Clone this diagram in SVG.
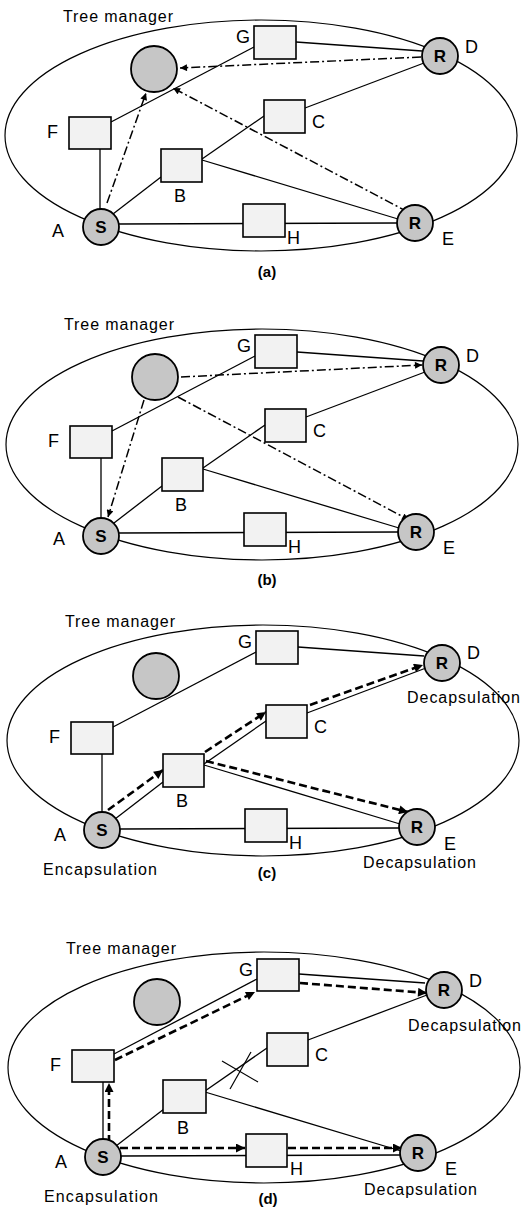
<svg xmlns="http://www.w3.org/2000/svg" width="531" height="1208" viewBox="0 0 531 1208">
<style>
.bg{fill:#fff}
.ell{fill:none;stroke:#000;stroke-width:1.2}
.edge{fill:none;stroke:#000;stroke-width:1.3}
.dd{fill:none;stroke:#000;stroke-width:1.5;stroke-dasharray:9 3 2 3}
.dash{fill:none;stroke:#000;stroke-width:2.6;stroke-dasharray:8 4}
.box{fill:#f2f2f2;stroke:#000;stroke-width:1.6}
.rc{fill:#c6c6c6;stroke:#000;stroke-width:1.8}
.t{font-family:"Liberation Sans",Arial,sans-serif;fill:#000}
.lbl{font-size:18px}
.in{font-size:17px;font-weight:bold;text-anchor:middle}
.tm{font-size:16px}
.enc{font-size:16px}
.cap{font-size:15px;font-weight:bold;text-anchor:middle}
.x{fill:none;stroke:#000;stroke-width:1.2}
</style>
<defs>
<marker id="ah" viewBox="0 0 10 10" refX="10" refY="5" markerWidth="8" markerHeight="7" markerUnits="userSpaceOnUse" orient="auto"><path d="M0,0 L10,5 L0,10 z" fill="#000"/></marker>
<marker id="ahb" viewBox="0 0 10 10" refX="10" refY="5" markerWidth="11" markerHeight="9" markerUnits="userSpaceOnUse" orient="auto"><path d="M0,0 L10,5 L0,10 z" fill="#000"/></marker>
</defs>
<rect class="bg" x="0" y="0" width="531" height="1208"/>

<!-- Panel (a) -->
<g id="panel-a" transform="translate(0,0)">
  <ellipse class="ell" cx="261" cy="135.5" rx="256" ry="115.5"/>
  <text class="t tm" x="63" y="22" textLength="110" lengthAdjust="spacing">Tree manager</text>
  <g id="a-connectors">
    <line class="edge" x1="100" y1="149" x2="100" y2="209"/>
    <line class="edge" x1="111" y1="122" x2="254" y2="47"/>
    <line class="edge" x1="296" y1="42" x2="422" y2="51"/>
    <line class="edge" x1="305" y1="108" x2="424" y2="63"/>
    <line class="edge" x1="202" y1="159" x2="264" y2="116"/>
    <line class="edge" x1="202" y1="160" x2="398" y2="219"/>
    <line class="edge" x1="113" y1="214" x2="161" y2="177"/>
    <line class="edge" x1="118" y1="224" x2="397" y2="223"/>
    <line class="dd" x1="107" y1="203" x2="146" y2="93" marker-end="url(#ah)"/>
    <line class="dd" x1="421" y1="57" x2="180" y2="68" marker-end="url(#ah)"/>
    <line class="dd" x1="408" y1="212" x2="173" y2="88" marker-end="url(#ah)"/>
  </g>
  <g id="a-TM"><circle class="rc" cx="154" cy="69" r="23"/></g>
  <g id="a-G"><rect class="box" x="254" y="26" width="42" height="33"/><text class="t lbl" x="250" y="43" text-anchor="end">G</text></g>
  <g id="a-D"><circle class="rc" cx="440" cy="56" r="18"/><text class="t in" x="440" y="62">R</text><text class="t lbl" x="465" y="53">D</text></g>
  <g id="a-C"><rect class="box" x="264" y="100" width="41" height="33"/><text class="t lbl" x="312" y="128">C</text></g>
  <g id="a-F"><rect class="box" x="69" y="117" width="42" height="32"/><text class="t lbl" x="47" y="138">F</text></g>
  <g id="a-B"><rect class="box" x="161" y="149" width="41" height="33"/><text class="t lbl" x="174" y="202">B</text></g>
  <g id="a-S"><circle class="rc" cx="101" cy="227" r="18"/><text class="t in" x="101" y="233">S</text><text class="t lbl" x="52" y="237">A</text></g>
  <g id="a-H"><rect class="box" x="243" y="204" width="42" height="33"/><text class="t lbl" x="287" y="244">H</text></g>
  <g id="a-E"><circle class="rc" cx="415" cy="223" r="18"/><text class="t in" x="415" y="229">R</text><text class="t lbl" x="442" y="245">E</text></g>
  <text class="t cap" x="267" y="277">(a)</text>
</g>

<!-- Panel (b) -->
<g id="panel-b" transform="translate(1,309)">
  <ellipse class="ell" cx="261" cy="135.5" rx="256" ry="115.5"/>
  <text class="t tm" x="63" y="21" textLength="110" lengthAdjust="spacing">Tree manager</text>
  <g id="b-connectors">
    <line class="edge" x1="100" y1="149" x2="100" y2="209"/>
    <line class="edge" x1="111" y1="122" x2="254" y2="47"/>
    <line class="edge" x1="296" y1="43" x2="422" y2="52"/>
    <line class="edge" x1="305" y1="108" x2="424" y2="63"/>
    <line class="edge" x1="202" y1="159" x2="264" y2="116"/>
    <line class="edge" x1="202" y1="160" x2="398" y2="219"/>
    <line class="edge" x1="113" y1="214" x2="161" y2="177"/>
    <line class="edge" x1="118" y1="224" x2="397" y2="223"/>
    <line class="dd" x1="180" y1="68" x2="421" y2="56" marker-end="url(#ah)"/>
    <line class="dd" x1="143" y1="91" x2="107" y2="208" marker-end="url(#ah)"/>
    <line class="dd" x1="177" y1="88" x2="408" y2="211" marker-end="url(#ah)"/>
  </g>
  <g id="b-TM"><circle class="rc" cx="154" cy="68" r="23"/></g>
  <g id="b-G"><rect class="box" x="254" y="26" width="42" height="33"/><text class="t lbl" x="250" y="43" text-anchor="end">G</text></g>
  <g id="b-D"><circle class="rc" cx="440" cy="56" r="18"/><text class="t in" x="440" y="62">R</text><text class="t lbl" x="465" y="53">D</text></g>
  <g id="b-C"><rect class="box" x="264" y="100" width="41" height="33"/><text class="t lbl" x="312" y="128">C</text></g>
  <g id="b-F"><rect class="box" x="69" y="117" width="42" height="32"/><text class="t lbl" x="47" y="138">F</text></g>
  <g id="b-B"><rect class="box" x="161" y="149" width="41" height="33"/><text class="t lbl" x="174" y="202">B</text></g>
  <g id="b-S"><circle class="rc" cx="100" cy="227" r="18"/><text class="t in" x="100" y="233">S</text><text class="t lbl" x="52" y="236">A</text></g>
  <g id="b-H"><rect class="box" x="243" y="204" width="42" height="33"/><text class="t lbl" x="287" y="244">H</text></g>
  <g id="b-E"><circle class="rc" cx="415" cy="223" r="18"/><text class="t in" x="415" y="229">R</text><text class="t lbl" x="442" y="245">E</text></g>
  <text class="t cap" x="266" y="276">(b)</text>
</g>

<!-- Panel (c) -->
<g id="panel-c" transform="translate(2,605)">
  <ellipse class="ell" cx="261" cy="135.5" rx="256" ry="115.5"/>
  <text class="t tm" x="63" y="22" textLength="110" lengthAdjust="spacing">Tree manager</text>
  <g id="c-connectors">
    <line class="edge" x1="100" y1="149" x2="100" y2="209"/>
    <line class="edge" x1="111" y1="122" x2="254" y2="47"/>
    <line class="edge" x1="296" y1="42" x2="422" y2="51"/>
    <line class="edge" x1="305" y1="108" x2="424" y2="63"/>
    <line class="edge" x1="202" y1="159" x2="264" y2="116"/>
    <line class="edge" x1="202" y1="160" x2="398" y2="219"/>
    <line class="edge" x1="113" y1="214" x2="161" y2="177"/>
    <line class="edge" x1="118" y1="224" x2="397" y2="223"/>
    <line class="dash" x1="106" y1="205" x2="161" y2="165" marker-end="url(#ahb)"/>
    <line class="dash" x1="203" y1="147" x2="264" y2="107" marker-end="url(#ahb)"/>
    <line class="dash" x1="308" y1="100" x2="421" y2="60" marker-end="url(#ahb)"/>
    <line class="dash" x1="204" y1="156" x2="406" y2="207" marker-end="url(#ahb)"/>
  </g>
  <g id="c-TM"><circle class="rc" cx="154" cy="71" r="23"/></g>
  <g id="c-G"><rect class="box" x="254" y="26" width="42" height="33"/><text class="t lbl" x="250" y="43" text-anchor="end">G</text></g>
  <g id="c-D"><circle class="rc" cx="440" cy="58" r="18"/><text class="t in" x="440" y="64">R</text><text class="t lbl" x="465" y="54">D</text><text class="t enc" x="405" y="98" textLength="113" lengthAdjust="spacing">Decapsulation</text></g>
  <g id="c-C"><rect class="box" x="264" y="100" width="41" height="33"/><text class="t lbl" x="312" y="128">C</text></g>
  <g id="c-F"><rect class="box" x="69" y="117" width="42" height="32"/><text class="t lbl" x="47" y="138">F</text></g>
  <g id="c-B"><rect class="box" x="161" y="149" width="41" height="33"/><text class="t lbl" x="174" y="202">B</text></g>
  <g id="c-S"><circle class="rc" cx="100" cy="225" r="18"/><text class="t in" x="100" y="231">S</text><text class="t lbl" x="52" y="236">A</text><text class="t enc" x="41" y="270" textLength="114" lengthAdjust="spacing">Encapsulation</text></g>
  <g id="c-H"><rect class="box" x="243" y="204" width="42" height="33"/><text class="t lbl" x="287" y="244">H</text></g>
  <g id="c-E"><circle class="rc" cx="415" cy="222" r="18"/><text class="t in" x="415" y="228">R</text><text class="t lbl" x="442" y="245">E</text><text class="t enc" x="361" y="263" textLength="113" lengthAdjust="spacing">Decapsulation</text></g>
  <text class="t cap" x="265" y="273">(c)</text>
</g>

<!-- Panel (d) -->
<g id="panel-d" transform="translate(3,932)">
  <ellipse class="ell" cx="261" cy="135.5" rx="256" ry="115.5"/>
  <text class="t tm" x="63" y="22" textLength="110" lengthAdjust="spacing">Tree manager</text>
  <g id="d-connectors">
    <line class="edge" x1="100" y1="149" x2="100" y2="209"/>
    <line class="edge" x1="111" y1="122" x2="254" y2="47"/>
    <line class="edge" x1="296" y1="42" x2="422" y2="51"/>
    <line class="edge" x1="305" y1="108" x2="424" y2="63"/>
    <line class="edge" x1="202" y1="159" x2="264" y2="116"/>
    <line class="edge" x1="202" y1="160" x2="398" y2="219"/>
    <line class="edge" x1="113" y1="214" x2="161" y2="177"/>
    <line class="edge" x1="118" y1="224" x2="397" y2="223"/>
    <line class="dash" x1="106" y1="211" x2="106" y2="151" marker-end="url(#ahb)"/>
    <line class="dash" x1="112" y1="128" x2="252" y2="60" marker-end="url(#ahb)"/>
    <line class="dash" x1="297" y1="51" x2="424" y2="61" marker-end="url(#ahb)"/>
    <line class="dash" x1="117" y1="216" x2="242" y2="216" marker-end="url(#ahb)"/>
    <line class="dash" x1="285" y1="216" x2="399" y2="216" marker-end="url(#ahb)"/>
    <line class="x" x1="219" y1="129" x2="255" y2="150"/>
    <line class="x" x1="248" y1="120" x2="227" y2="157"/>
  </g>
  <g id="d-TM"><circle class="rc" cx="154" cy="70" r="23"/></g>
  <g id="d-G"><rect class="box" x="254" y="27" width="42" height="32"/><text class="t lbl" x="250" y="44" text-anchor="end">G</text></g>
  <g id="d-D"><circle class="rc" cx="441" cy="58" r="18"/><text class="t in" x="441" y="64">R</text><text class="t lbl" x="466" y="55">D</text><text class="t enc" x="405" y="99" textLength="113" lengthAdjust="spacing">Decapsulation</text></g>
  <g id="d-C"><rect class="box" x="264" y="101" width="41" height="33"/><text class="t lbl" x="312" y="129">C</text></g>
  <g id="d-F"><rect class="box" x="69" y="118" width="42" height="32"/><text class="t lbl" x="47" y="139">F</text></g>
  <g id="d-B"><rect class="box" x="160" y="148" width="43" height="33"/><text class="t lbl" x="174" y="202">B</text></g>
  <g id="d-S"><circle class="rc" cx="100" cy="225" r="18"/><text class="t in" x="100" y="231">S</text><text class="t lbl" x="52" y="236">A</text><text class="t enc" x="41" y="270" textLength="114" lengthAdjust="spacing">Encapsulation</text></g>
  <g id="d-H"><rect class="box" x="243" y="202" width="41" height="33"/><text class="t lbl" x="287" y="243">H</text></g>
  <g id="d-E"><circle class="rc" cx="415" cy="221" r="18"/><text class="t in" x="415" y="227">R</text><text class="t lbl" x="442" y="243">E</text><text class="t enc" x="361" y="263" textLength="113" lengthAdjust="spacing">Decapsulation</text></g>
  <text class="t cap" x="265" y="272">(d)</text>
</g>
</svg>
